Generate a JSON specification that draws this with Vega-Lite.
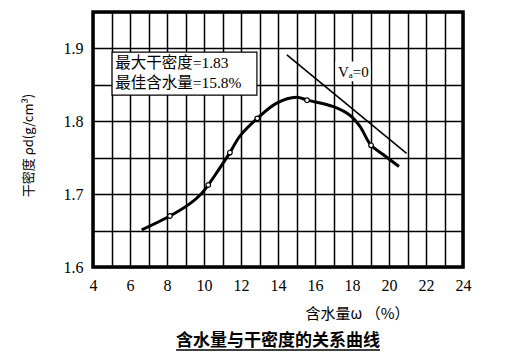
{
  "$schema": "https://vega.github.io/schema/vega-lite/v6.json",
  "width": 370,
  "height": 255,
  "autosize": "none",
  "padding": {"left": 93, "top": 12, "right": 43, "bottom": 97},
  "background": "white",
  "config": {
    "view": {"stroke": "black", "strokeWidth": 3.5},
    "font": "Liberation Serif, Noto Sans CJK SC"
  },
  "title": {
    "text": "含水量与干密度的关系曲线",
    "orient": "bottom",
    "anchor": "middle",
    "frame": "group",
    "font": "Noto Sans CJK SC",
    "fontSize": 17,
    "fontWeight": "bold",
    "color": "black",
    "offset": -18
  },
  "data": {
    "values": [
      {"kind": "curve", "w": 6.63, "rho": 1.651},
      {"kind": "curve", "w": 8.16, "rho": 1.670},
      {"kind": "curve", "w": 9.24, "rho": 1.687},
      {"kind": "curve", "w": 9.87, "rho": 1.701},
      {"kind": "curve", "w": 10.23, "rho": 1.7125},
      {"kind": "curve", "w": 10.78, "rho": 1.733},
      {"kind": "curve", "w": 11.4, "rho": 1.757},
      {"kind": "curve", "w": 11.95, "rho": 1.780},
      {"kind": "curve", "w": 12.88, "rho": 1.804},
      {"kind": "curve", "w": 13.93, "rho": 1.825},
      {"kind": "curve", "w": 15.0, "rho": 1.833},
      {"kind": "curve", "w": 15.59, "rho": 1.829},
      {"kind": "curve", "w": 17.0, "rho": 1.820},
      {"kind": "curve", "w": 17.9, "rho": 1.808},
      {"kind": "curve", "w": 18.43, "rho": 1.793},
      {"kind": "curve", "w": 19.03, "rho": 1.767},
      {"kind": "curve", "w": 19.7, "rho": 1.754},
      {"kind": "curve", "w": 20.54, "rho": 1.738},
      {"kind": "point", "w": 8.16, "rho": 1.670},
      {"kind": "point", "w": 10.23, "rho": 1.7125},
      {"kind": "point", "w": 11.4, "rho": 1.757},
      {"kind": "point", "w": 12.88, "rho": 1.804},
      {"kind": "point", "w": 15.57, "rho": 1.829},
      {"kind": "point", "w": 19.03, "rho": 1.767},
      {"kind": "va", "w": 14.48, "rho": 1.891},
      {"kind": "va", "w": 20.95, "rho": 1.756},
      {"kind": "box", "w": 5.03, "w2": 12.86, "rho": 1.836, "rho2": 1.895},
      {"kind": "vabox", "w": 17.1, "w2": 19.0, "rho": 1.855, "rho2": 1.882},
      {"kind": "note", "w": 5.2, "rho": 1.880, "label": "最大干密度=1.83"},
      {"kind": "note", "w": 5.2, "rho": 1.8525, "label": "最佳含水量=15.8%"},
      {"kind": "valabel", "w": 17.24, "rho": 1.8676, "label": "Vₐ=0"},
      {"kind": "underline", "w": 8.49, "w2": 19.51, "rho": 1.4862}
    ]
  },
  "encoding": {
    "x": {"field": "w", "type": "quantitative",
      "scale": {"domain": [4, 24], "nice": false, "zero": false},
      "axis": {
        "values": [4,5,6,7,8,9,10,11,12,13,14,15,16,17,18,19,20,21,22,23,24],
        "labelExpr": "datum.value % 2 == 0 ? datum.label : ''",
        "labelOverlap": false,
        "grid": true, "gridColor": "black", "gridWidth": 1.5, "gridOpacity": 1,
        "ticks": false, "domain": false,
        "labelFont": "Liberation Serif", "labelFontSize": 16, "labelColor": "black",
        "labelPadding": 10, "labelFlush": false,
        "title": "含水量ω （%）",
        "titleFont": "Noto Sans CJK SC", "titleFontSize": 15, "titleFontWeight": "normal",
        "titleColor": "black", "titleX": 264, "titleY": 46, "titleAlign": "center", "titleBaseline": "middle"
      }
    },
    "y": {"field": "rho", "type": "quantitative",
      "scale": {"domain": [1.6, 1.95], "nice": false, "zero": false},
      "axis": {
        "values": [1.6, 1.65, 1.7, 1.75, 1.8, 1.85, 1.9, 1.95],
        "labelExpr": "(round(datum.value*100) % 10 == 0) ? format(datum.value, '.1f') : ''",
        "labelOverlap": false,
        "grid": true, "gridColor": "black", "gridWidth": 1.5, "gridOpacity": 1,
        "ticks": false, "domain": false,
        "labelFont": "Liberation Serif", "labelFontSize": 16, "labelColor": "black",
        "labelPadding": 10, "labelDy": 3, "labelFlush": false,
        "title": "干密度 ρd(g/cm³)",
        "titleFont": "Noto Sans CJK SC", "titleFontSize": 13, "titleFontWeight": "normal",
        "titleColor": "black", "titleX": -65, "titleY": 133, "titleAlign": "center", "titleBaseline": "middle", "titleAngle": -90
      }
    }
  },
  "layer": [
    {
      "transform": [{"filter": "datum.kind == 'box'"}],
      "mark": {"type": "rect", "fill": "white", "stroke": "black", "strokeWidth": 1.2},
      "encoding": {"x2": {"field": "w2"}, "y2": {"field": "rho2"}}
    },
    {
      "transform": [{"filter": "datum.kind == 'vabox'"}],
      "mark": {"type": "rect", "fill": "white", "strokeWidth": 0},
      "encoding": {"x2": {"field": "w2"}, "y2": {"field": "rho2"}}
    },
    {
      "transform": [{"filter": "datum.kind == 'va'"}],
      "mark": {"type": "line", "color": "black", "strokeWidth": 1.6},
      "encoding": {}
    },
    {
      "transform": [{"filter": "datum.kind == 'curve'"}],
      "mark": {"type": "line", "color": "black", "strokeWidth": 3, "interpolate": "catmull-rom"},
      "encoding": {}
    },
    {
      "transform": [{"filter": "datum.kind == 'point'"}],
      "mark": {"type": "point", "shape": "circle", "filled": true, "fill": "white", "stroke": "black", "strokeWidth": 1.2, "size": 22, "opacity": 1},
      "encoding": {}
    },
    {
      "transform": [{"filter": "datum.kind == 'note'"}],
      "mark": {"type": "text", "align": "left", "baseline": "middle", "fontSize": 15.5, "color": "black", "font": "Liberation Serif, Noto Sans CJK SC"},
      "encoding": {"text": {"field": "label"}}
    },
    {
      "transform": [{"filter": "datum.kind == 'valabel'"}],
      "mark": {"type": "text", "align": "left", "baseline": "middle", "fontSize": 15, "color": "black", "font": "Liberation Serif"},
      "encoding": {"text": {"field": "label"}}
    },
    {
      "transform": [{"filter": "datum.kind == 'underline'"}],
      "mark": {"type": "rule", "color": "black", "strokeWidth": 1.5},
      "encoding": {"x2": {"field": "w2"}}
    }
  ]
}
